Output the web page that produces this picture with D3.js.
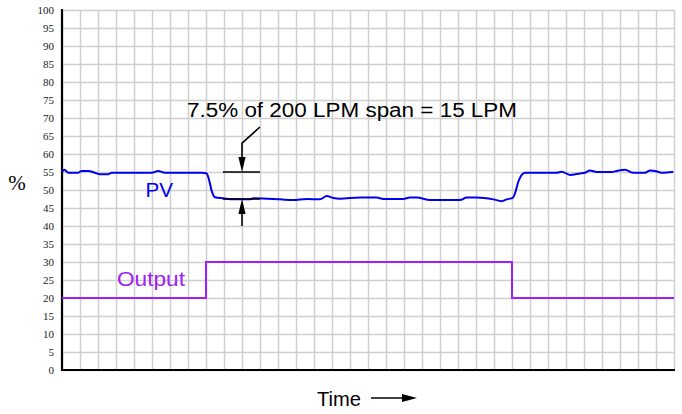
<!DOCTYPE html>
<html><head><meta charset="utf-8">
<script src="https://cdn.jsdelivr.net/npm/d3@7"></script>
<style>body{margin:0;background:#fff}svg{display:block}</style>
</head><body>
<svg id="chart" width="682" height="414"></svg>
<script>
const yTickValues = [0,5,10,15,20,25,30,35,40,45,50,55,60,65,70,75,80,85,90,95,100];
const xGridValues = [0,1,2,3,4,5,6,7,8,9,10,11,12,13,14,15,16,17,18,19,20,21,22,23,24,25,26,27,28,29,30,31,32,33,34];
const pvTime = [0.02,0.13,0.35,0.91,1.09,1.46,1.83,2.11,2.57,2.76,4.98,5.35,5.72,7.76,8.04,8.17,8.32,8.5,8.96,9.52,10.44,10.63,12.11,12.85,13.59,14.33,14.71,15.07,15.44,16.56,17.48,17.85,18.96,19.33,19.71,20.44,22.11,22.48,23.04,23.96,24.43,24.71,25.04,25.17,25.35,25.54,25.72,27.48,27.76,28.22,28.78,29.06,29.33,29.71,30.54,30.82,31.28,31.74,32.39,32.67,32.94,33.32,33.96];
const pvValue = [55.1,55.6,54.8,54.8,55.3,55.3,54.8,54.4,54.4,54.8,54.8,55.3,54.8,54.8,54.6,52.8,49.7,48.0,47.7,47.4,47.4,47.7,47.4,47.2,47.5,47.4,48.3,47.8,47.6,47.9,47.9,47.5,47.5,47.9,47.9,47.2,47.2,47.9,47.9,47.4,46.9,47.4,47.8,49.1,52.3,54.2,54.8,54.8,55.1,54.2,54.6,54.8,55.4,55.0,55.0,55.3,55.6,54.8,54.8,55.4,55.3,54.8,55.1];
const outTime = [0,8,8,25,25,34];
const outValue = [20,20,30,30,20,20];
const annotTop = 55, annotBottom = 47.5;
const labels = {pv:"PV", out:"Output", note:"7.5% of 200 LPM span = 15 LPM", xTitle:"Time", yTitle:"%"};

const svg = d3.select("#chart");
const x = d3.scaleLinear().domain([0,34]).range([62,674]);
const y = d3.scaleLinear().domain([0,100]).range([370,10]);

// grid
svg.append("g").attr("transform","translate(0,370)")
  .call(d3.axisBottom(x).tickValues(xGridValues).tickSize(-360).tickFormat(""))
  .call(g=>{g.select(".domain").remove();g.selectAll("line").attr("stroke","#cfcfcf").attr("stroke-width",1.5);});
svg.append("g").attr("transform","translate(62,0)")
  .call(d3.axisLeft(y).tickValues(yTickValues).tickSize(-612).tickFormat(""))
  .call(g=>{g.select(".domain").remove();g.selectAll("line").attr("stroke","#cfcfcf").attr("stroke-width",1.5);});

// y labels
svg.append("g").attr("transform","translate(62,0)")
  .call(d3.axisLeft(y).tickValues(yTickValues).tickSize(0).tickPadding(8))
  .call(g=>{g.select(".domain").remove();g.selectAll("text").attr("font-family","Liberation Serif, Times New Roman, serif").attr("font-size",11).attr("fill","#222");});

// axes lines
svg.append("line").attr("x1",x(0)).attr("x2",x(0)).attr("y1",y(100)-1).attr("y2",y(0)+1).attr("stroke","#000").attr("stroke-width",2.2);
svg.append("line").attr("x1",x(0)-1).attr("x2",x(34)+1).attr("y1",y(0)).attr("y2",y(0)).attr("stroke","#000").attr("stroke-width",2.2);

// output line
svg.append("path").datum(outTime.map((t,i)=>[t,outValue[i]]))
  .attr("d",d3.line().x(d=>x(d[0])).y(d=>y(d[1])))
  .attr("fill","none").attr("stroke","#a020f0").attr("stroke-width",2);

// pv line
svg.append("path").datum(pvTime.map((t,i)=>[t,pvValue[i]]))
  .attr("d",d3.line().x(d=>x(d[0])).y(d=>y(d[1])).curve(d3.curveMonotoneX))
  .attr("fill","none").attr("stroke","#0000ee").attr("stroke-width",2);

// annotation
const ax = x(10);
[annotTop, annotBottom].forEach(v=>{
  svg.append("line").attr("x1",x(8.94)).attr("x2",x(11)).attr("y1",y(v)).attr("y2",y(v)).attr("stroke","#000").attr("stroke-width",1.6);
});
svg.append("path").attr("d",`M${x(11)},${y(67.5)}L${ax},${y(63)}L${ax},${y(annotTop)-12}`)
  .attr("fill","none").attr("stroke","#000").attr("stroke-width",1.6);
svg.append("path").attr("d",`M${ax},${y(annotTop)}L${ax-3.6},${y(annotTop)-15}L${ax+3.6},${y(annotTop)-15}Z`).attr("fill","#000");
svg.append("path").attr("d",`M${ax},${y(40)}L${ax},${y(annotBottom)+12}`)
  .attr("fill","none").attr("stroke","#000").attr("stroke-width",1.6);
svg.append("path").attr("d",`M${ax},${y(annotBottom)}L${ax-3.6},${y(annotBottom)+15}L${ax+3.6},${y(annotBottom)+15}Z`).attr("fill","#000");

const sans = "Liberation Sans, Arial, Helvetica, sans-serif";
svg.append("text").attr("x",187).attr("y",117).attr("font-family",sans).attr("font-size",20)
  .attr("textLength",330).attr("lengthAdjust","spacingAndGlyphs").attr("fill","#000").text(labels.note);
svg.append("text").attr("x",145.5).attr("y",197).attr("font-family",sans).attr("font-size",20)
  .attr("textLength",27.5).attr("lengthAdjust","spacingAndGlyphs").attr("fill","#0000ee").text(labels.pv);
svg.append("text").attr("x",117).attr("y",285.5).attr("font-family",sans).attr("font-size",20)
  .attr("textLength",68).attr("lengthAdjust","spacingAndGlyphs").attr("fill","#a020f0").text(labels.out);
svg.append("text").attr("x",317).attr("y",406).attr("font-family",sans).attr("font-size",20)
  .attr("textLength",44).attr("lengthAdjust","spacingAndGlyphs").attr("fill","#000").text(labels.xTitle);
svg.append("line").attr("x1",371).attr("x2",405).attr("y1",398).attr("y2",398).attr("stroke","#000").attr("stroke-width",1.3);
svg.append("path").attr("d","M417,398L402,394L402,402Z").attr("fill","#000");
svg.append("text").attr("x",17).attr("y",190).attr("text-anchor","middle").attr("font-family","Liberation Serif, Times New Roman, serif")
  .attr("font-size",21).attr("fill","#000").text(labels.yTitle);
</script>
</body></html>
